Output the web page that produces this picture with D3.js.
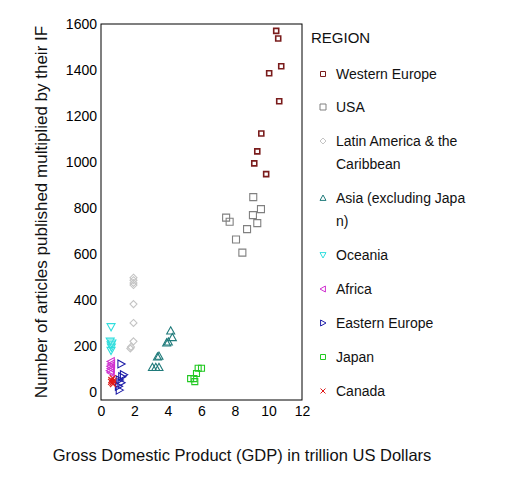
<!DOCTYPE html>
<html><head><meta charset="utf-8">
<script src="https://cdn.jsdelivr.net/npm/d3@7"></script>
<style>body{margin:0;background:#fff}text{font-family:"Liberation Sans",Arial,sans-serif}</style>
</head><body><svg id="c" width="512" height="477"></svg>
<script>
const regions = ["Western Europe","USA","Latin America & the Caribbean","Asia (excluding Japan)","Oceania","Africa","Eastern Europe","Japan","Canada"];
const legendLines = [["Western Europe"],["USA"],["Latin America & the","Caribbean"],["Asia (excluding Japa","n)"],["Oceania"],["Africa"],["Eastern Europe"],["Japan"],["Canada"]];
const xTicks = [0,2,4,6,8,10,12];
const yTicks = [0,200,400,600,800,1000,1200,1400,1600];
const westernEurope = [[10.46,1570],[10.58,1537],[10.76,1416],[10.04,1386],[10.64,1264],[9.57,1124],[9.33,1046],[9.15,994],[9.86,947]];
const usa = [[9.09,847],[9.55,795],[7.47,758],[7.68,740],[9.07,769],[9.33,734],[8.72,708],[8.06,663],[8.44,606]];
const latinAmerica = [[1.94,497],[1.94,486],[1.94,474],[1.94,465],[1.94,382],[1.94,300],[1.94,220],[1.79,196],[1.75,189]];
const asia = [[4.16,266],[4.26,237],[3.92,214],[4.02,218],[3.46,156],[3.37,153],[3.07,107],[3.27,107],[3.46,107]];
const oceania = [[0.6,283],[0.55,220],[0.65,212],[0.6,204],[0.62,194],[0.6,180]];
const africa = [[0.6,132],[0.62,122],[0.58,112],[0.6,102],[0.55,92],[0.6,84]];
const easternEurope = [[1.2,122],[1.35,75],[1.25,66],[1.1,52],[1.2,40],[1.05,25],[1.1,8]];
const japan = [[5.8,103],[6.0,103],[5.7,80],[5.35,58],[5.55,58],[5.6,45]];
const canada = [[0.7,60],[0.62,52],[0.75,48],[0.68,40],[0.72,34],[0.6,44]];

const seriesData = [westernEurope,usa,latinAmerica,asia,oceania,africa,easternEurope,japan,canada];
const colors = ["#7a1c1c","#808080","#c4c4c4","#1f7a7a","#30dede","#d030d0","#1c1ca8","#22c822","#e01818"];
const shapes = ["square","square","diamond","triUp","triDown","triLeft","triRight","square","x"];
const sizes = [5,7,7,8,8,8,8,6,6];
const legSizes = [5,6,6,6,6,6,6,5,5];

const svg = d3.select("#c");
const x = d3.scaleLinear().domain([0,12]).range([101,302]);
const y = d3.scaleLinear().domain([-35,1600]).range([400,24]);

function shapePath(shape, s){
  const h = s/2;
  switch(shape){
    case "square": return `M${-h},${-h}H${h}V${h}H${-h}Z`;
    case "diamond": return `M0,${-h}L${h},0L0,${h}L${-h},0Z`;
    case "triUp": return `M0,${-h}L${h},${h*0.8}L${-h},${h*0.8}Z`;
    case "triDown": return `M0,${h}L${h},${-h*0.8}L${-h},${-h*0.8}Z`;
    case "triLeft": return `M${-h},0L${h*0.8},${-h}L${h*0.8},${h}Z`;
    case "triRight": return `M${h},0L${-h*0.8},${-h}L${-h*0.8},${h}Z`;
    case "x": return `M${-h},${-h}L${h},${h}M${h},${-h}L${-h},${h}`;
  }
}

// frame
svg.append("rect").attr("x",101).attr("y",24).attr("width",201).attr("height",376)
  .attr("fill","none").attr("stroke","#000").attr("stroke-width",1);

// axes (labels only)
const xAxis = d3.axisBottom(x).tickValues(xTicks).tickFormat(d3.format("d")).tickSize(0).tickPadding(6);
svg.append("g").attr("transform","translate(0,400)").call(xAxis)
  .call(g=>g.select(".domain").remove())
  .selectAll("text").attr("font-size",14).attr("fill","#000").attr("font-family","Liberation Sans, Arial, sans-serif");
const yAxis = d3.axisLeft(y).tickValues(yTicks).tickFormat(d3.format("d")).tickSize(0).tickPadding(4);
svg.append("g").attr("transform","translate(101,0)").call(yAxis)
  .call(g=>g.select(".domain").remove())
  .selectAll("text").attr("font-size",14).attr("fill","#000").attr("font-family","Liberation Sans, Arial, sans-serif");

// points
seriesData.forEach((data,i)=>{
  svg.append("g").selectAll("path").data(data).join("path")
    .attr("transform",d=>`translate(${x(d[0])},${y(d[1])})`)
    .attr("d",shapePath(shapes[i],sizes[i]))
    .attr("fill","none").attr("stroke",colors[i]).attr("stroke-width",i===0?1.6:1.1);
});

// axis titles
svg.append("text").attr("x",242).attr("y",461).attr("text-anchor","middle")
  .attr("font-size",16.5).attr("fill","#111").text("Gross Domestic Product (GDP) in trillion US Dollars");
svg.append("text").attr("transform","translate(47,212) rotate(-90)").attr("text-anchor","middle")
  .attr("font-size",17).attr("fill","#111").text("Number of articles published multiplied by their IF");

// legend
svg.append("text").attr("x",311).attr("y",43).attr("font-size",15).attr("fill","#111").text("REGION");
const rowY = [74,107,141,198,255,289,323,357,391];
regions.forEach((r,i)=>{
  const g = svg.append("g");
  g.append("path").attr("transform",`translate(323,${rowY[i]})`)
    .attr("d",shapePath(shapes[i],legSizes[i])).attr("fill","none").attr("stroke",colors[i]).attr("stroke-width",1);
  legendLines[i].forEach((ln,j)=>{
    g.append("text").attr("x",336).attr("y",rowY[i]+5+j*23).attr("font-size",14).attr("fill","#111").text(ln);
  });
});
</script></body></html>
